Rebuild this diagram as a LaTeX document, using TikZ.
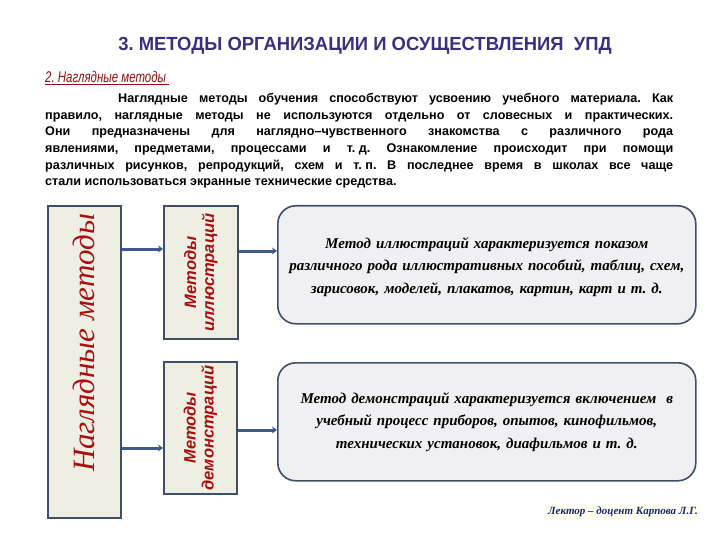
\documentclass[tikz,border=0pt]{standalone}
\usepackage{fontspec}
\setmainfont{Liberation Sans}
\newfontfamily\scriptf{Liberation Serif}
\usetikzlibrary{arrows.meta}
\definecolor{titlec}{HTML}{3B2F7F}
\definecolor{subc}{HTML}{8B1414}
\definecolor{redc}{HTML}{A80F0F}
\definecolor{boxfill}{HTML}{EEEEE3}
\definecolor{boxdraw}{HTML}{3E5068}
\definecolor{rfill}{HTML}{F0F0F2}
\definecolor{connc}{HTML}{3D5A8A}
\definecolor{footc}{HTML}{1A2A6A}
\frenchspacing
\begin{document}
\begin{tikzpicture}[x=1pt,y=-1pt,
  vbox/.style={draw=boxdraw,fill=boxfill,line width=1.6pt,inner sep=0pt},
  rbox/.style={draw=boxdraw,fill=rfill,line width=1.6pt,rounded corners=18pt,inner sep=0pt},
  conn/.style={draw=connc,line width=3pt,-{Stealth[length=5pt,width=7pt]}},
  desc/.style={align=center,font=\scriptf\bfseries\itshape\fontsize{15}{22.5}\selectfont,text width=416pt},
  vlab/.style={rotate=90,align=center,font=\bfseries\itshape\fontsize{16.5}{18}\selectfont,text=redc}
]
\useasboundingbox (0,0) rectangle (720,540);
\fill[white] (0,0) rectangle (720,540);
% title
\node[font=\bfseries\fontsize{19}{21}\selectfont,text=titlec] (T) at (365,46) {\scalebox{0.97}[1]{3. МЕТОДЫ ОРГАНИЗАЦИИ И ОСУЩЕСТВЛЕНИЯ\ \ УПД}};
\node[anchor=west,font=\itshape\fontsize{15.5}{17}\selectfont,text=subc,inner sep=0pt] (S) at (45,78) {\scalebox{0.74}[1]{\underline{2. Наглядные методы\ }}};
% paragraph
\node[anchor=north west,text width=628pt,inner sep=0pt,align=justify,font=\bfseries\fontsize{12.6}{16.7}\selectfont] (P) at (45,93)
{\hspace*{73pt}Наглядные методы обучения способствуют усвоению учебного материала. Как\linebreak правило, наглядные методы не используются отдельно от словесных и практических.\linebreak Они предназначены для наглядно–чувственного знакомства с различного рода\linebreak явлениями, предметами, процессами и \mbox{т. д.} Ознакомление происходит при помощи\linebreak различных рисунков, репродукций, схем и \mbox{т. п.} В последнее время в школах все чаще\linebreak стали использоваться экранные технические средства.};
% boxes
\node[vbox,minimum width=73pt,minimum height=312pt,anchor=north west] (L) at (47,205) {};
\node[rotate=90,font=\scriptf\itshape\fontsize{31}{34}\selectfont,text=redc] at ([yshift=19pt]L.center) {Наглядные методы};
\node[vbox,minimum width=74pt,minimum height=133pt,anchor=north west] (I) at (163,205) {};
\node[vlab] at (I.center) {Методы\\иллюстраций};
\node[vbox,minimum width=73pt,minimum height=132pt,anchor=north west] (D) at (163,361) {};
\node[vlab] at (D.center) {Методы\\демонстраций};
\node[rbox,minimum width=418pt,minimum height=118pt,anchor=north west] (RI) at (277,205) {};
\node[desc] at ([yshift=-2pt]RI.center) {Метод иллюстраций характеризуется показом\\ различного рода иллюстративных пособий, таблиц, схем,\\ зарисовок, моделей, плакатов, картин, карт и т. д.};
\node[rbox,minimum width=418pt,minimum height=118pt,anchor=north west] (RD) at (277,362) {};
\node[desc] at ([yshift=0pt]RD.center) {Метод демонстраций характеризуется включением\ \ в\\ учебный процесс приборов, опытов, кинофильмов,\\ технических установок, диафильмов и т. д.};
% connectors
\draw[conn] (L.east |- 0,249) -- (I.west |- 0,249);
\draw[conn] (L.east |- 0,448) -- (D.west |- 0,448);
\draw[conn] (I.east |- 0,251) -- (RI.west |- 0,251);
\draw[conn] (D.east |- 0,430) -- (RD.west |- 0,430);
% footer
\node[fill=yellow!6,inner sep=2pt,font=\scriptf\bfseries\itshape\fontsize{11}{13}\selectfont,text=footc] (F) at (623,512) {Лектор – доцент Карпова Л.Г.};
\end{tikzpicture}
\end{document}
